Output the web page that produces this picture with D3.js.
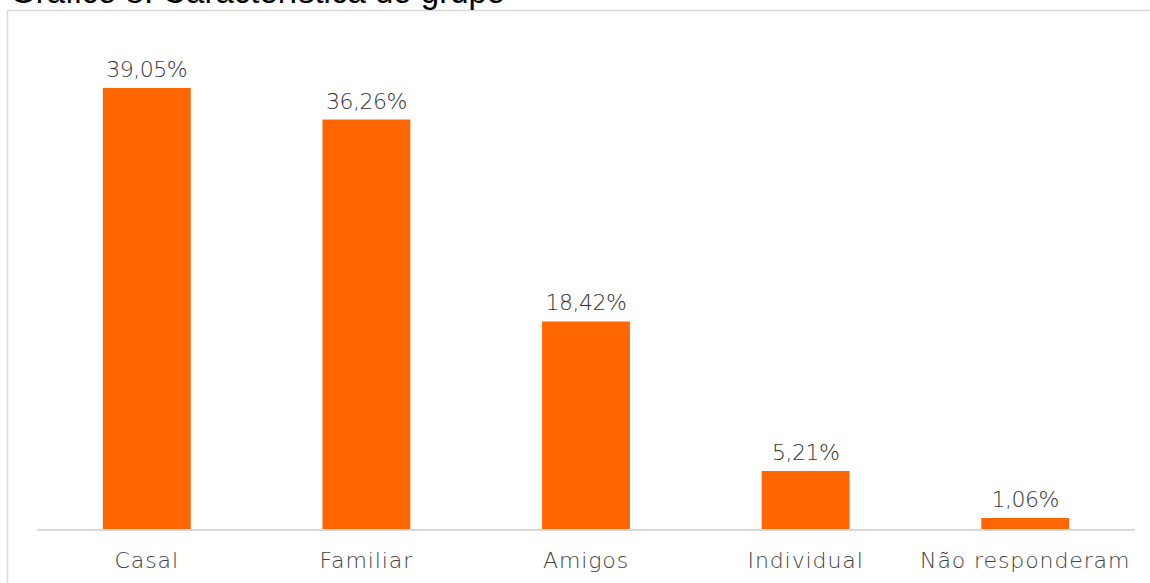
<!DOCTYPE html>
<html><head><meta charset="utf-8">
<script src="https://cdn.jsdelivr.net/npm/d3@7"></script>
<style>html,body{margin:0;padding:0;background:#fff;overflow:hidden}</style>
</head><body>
<svg id="c" width="1150" height="583"></svg>
<script>
const categories = ["Casal","Familiar","Amigos","Individual","Não responderam"];
const values = [39.05, 36.26, 18.42, 5.21, 1.06];
const valueLabels = ["39,05%","36,26%","18,42%","5,21%","1,06%"];
const title = "Gráfico 8: Característica do grupo";

const svg = d3.select("#c");
const font = "'DejaVu Sans', sans-serif";

// frame
svg.append("rect").attr("x",7.5).attr("y",10.5).attr("width",1160).attr("height",600)
  .attr("fill","#fff").attr("stroke","#d9d9d9").attr("stroke-width",1.5);

// title (clipped at top, as in the reference)
svg.append("text").attr("x",10).attr("y",2.5).text(title)
  .attr("font-family","'Liberation Sans', Arial, sans-serif").attr("font-size",33).attr("fill","#000");

const x = d3.scaleBand().domain(categories).range([37,1135]).paddingInner(0.6).paddingOuter(0.3);
const y = d3.scaleLinear().domain([0,45]).range([530, 530-45*11.32]);

svg.selectAll("rect.bar").data(values).join("rect").attr("class","bar")
  .attr("x",(d,i)=>x(categories[i])).attr("width",x.bandwidth())
  .attr("y",d=>y(d)).attr("height",d=>y(0)-y(d)).attr("fill","#ff6600");

// axis
const ax = svg.append("g").attr("transform","translate(0,530)")
  .call(d3.axisBottom(x).tickSize(0).tickPadding(20));
ax.select(".domain").attr("stroke","#d9d9d9").attr("stroke-width",2).attr("d","M37,0H1135");
ax.selectAll("text").attr("font-family",font).attr("font-size",22).attr("font-weight",200)
  .attr("fill","#404040").attr("letter-spacing",0.9).attr("dy","0").attr("y",38);

svg.selectAll("text.lbl").data(values).join("text").attr("class","lbl")
  .attr("x",(d,i)=>x(categories[i])+x.bandwidth()/2).attr("y",d=>y(d)-11)
  .attr("text-anchor","middle").attr("font-family",font).attr("font-size",22).attr("font-weight",200)
  .attr("letter-spacing",-0.5).attr("fill","#333333")
  .text((d,i)=>valueLabels[i]);
</script>
</body></html>
